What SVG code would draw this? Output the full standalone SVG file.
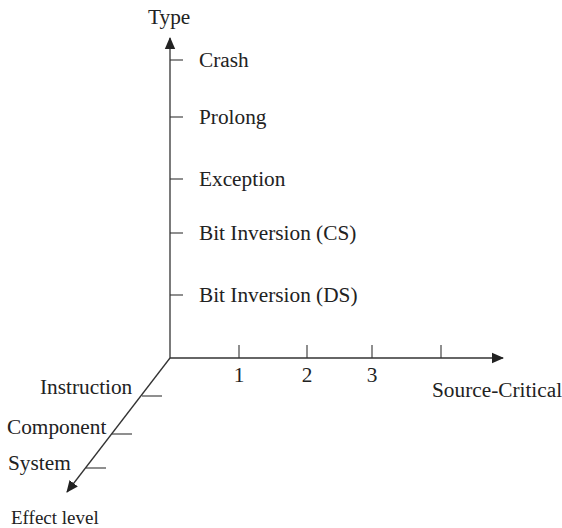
<svg xmlns="http://www.w3.org/2000/svg" width="562" height="528" viewBox="0 0 562 528">
<defs>
<style>
text{font-family:"Liberation Serif","Times New Roman",serif;font-size:21.3px;fill:#222}
.ax{stroke:#333;stroke-width:1.3;fill:none}
.tk{stroke:#333;stroke-width:1.1;fill:none}
.mid{text-anchor:middle}
</style>
<marker id="ah" viewBox="0 0 12 12" refX="11" refY="6" markerWidth="12" markerHeight="12" markerUnits="userSpaceOnUse" orient="auto">
<path d="M0,0.8 L12,6 L0,11.2 Z" fill="#222"/>
</marker>
</defs>
<rect width="562" height="528" fill="#fff"/>
<g id="connectors">
<line class="ax" x1="170" y1="358" x2="170" y2="38" marker-end="url(#ah)"/>
<line class="ax" x1="170" y1="358" x2="503" y2="358" marker-end="url(#ah)"/>
<line class="ax" x1="170" y1="358" x2="67" y2="492" marker-end="url(#ah)"/>
</g>
<g id="type-axis">
<text x="148" y="24">Type</text>
<line class="tk" x1="170" y1="60" x2="183" y2="60"/>
<line class="tk" x1="170" y1="117" x2="183" y2="117"/>
<line class="tk" x1="170" y1="179" x2="183" y2="179"/>
<line class="tk" x1="170" y1="233" x2="183" y2="233"/>
<line class="tk" x1="170" y1="295" x2="183" y2="295"/>
</g>
<g id="crash"><text x="199" y="67">Crash</text></g>
<g id="prolong"><text x="199" y="124">Prolong</text></g>
<g id="exception"><text x="199" y="186">Exception</text></g>
<g id="bit-cs"><text x="199" y="240">Bit Inversion (CS)</text></g>
<g id="bit-ds"><text x="199" y="302">Bit Inversion (DS)</text></g>
<g id="source-axis">
<line class="tk" x1="239" y1="345" x2="239" y2="358"/>
<line class="tk" x1="307" y1="345" x2="307" y2="358"/>
<line class="tk" x1="372" y1="345" x2="372" y2="358"/>
<line class="tk" x1="441" y1="345" x2="441" y2="358"/>
<text class="mid" x="239" y="382">1</text>
<text class="mid" x="307" y="382">2</text>
<text class="mid" x="372" y="382">3</text>
<text x="432" y="397">Source-Critical</text>
</g>
<g id="effect-axis">
<line class="tk" x1="142" y1="396" x2="162" y2="396"/>
<line class="tk" x1="112" y1="434" x2="132" y2="434"/>
<line class="tk" x1="86" y1="468" x2="106" y2="468"/>
</g>
<g id="instruction"><text x="40" y="394">Instruction</text></g>
<g id="component"><text x="7" y="434">Component</text></g>
<g id="system"><text x="8" y="470">System</text></g>
<g id="effect-level"><text x="11" y="524" style="font-size:19px">Effect level</text></g>
</svg>
